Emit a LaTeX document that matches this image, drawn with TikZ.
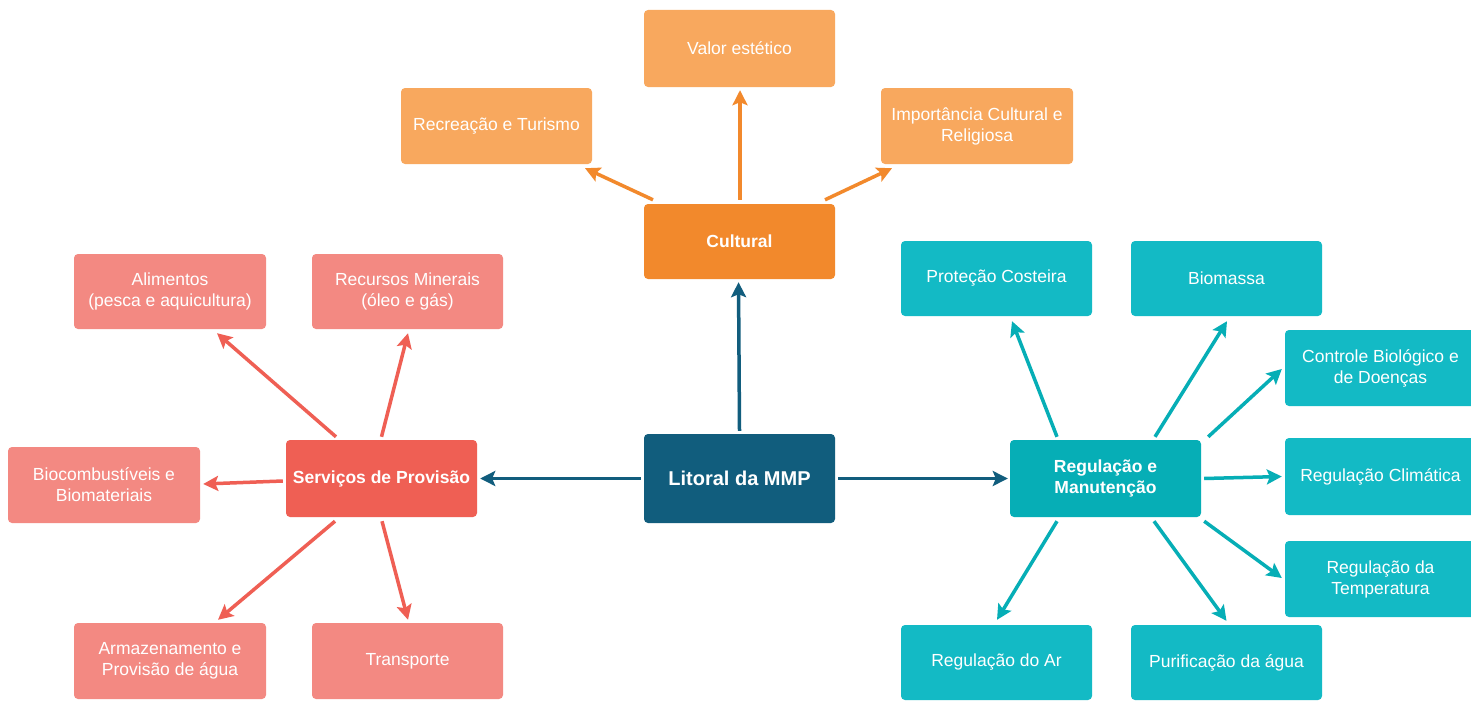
\documentclass[tikz,border=0pt]{standalone}
\usepackage{fontspec}
\setmainfont{Liberation Sans}
\usetikzlibrary{arrows.meta,calc}
\definecolor{cLit}{HTML}{115D7D}
\definecolor{cServ}{HTML}{EF5F54}
\definecolor{cServL}{HTML}{F38982}
\definecolor{cReg}{HTML}{06AEB6}
\definecolor{cRegL}{HTML}{13BAC5}
\definecolor{cCult}{HTML}{F2892C}
\definecolor{cCultL}{HTML}{F8A85E}
\tikzset{
  box/.style={rectangle, rounded corners=4pt, text=white, align=center, inner sep=0pt,
    minimum width=191pt, font=\fontsize{17.5}{21}\selectfont},
  mainbox/.style={box, font=\bfseries\fontsize{17.5}{21}\selectfont},
  arr/.style={line width=3.5pt, -{Stealth[length=15pt,width=15pt,inset=3pt]}},
}
\begin{document}
\begin{tikzpicture}[x=1pt,y=-1pt]
\clip (0,0) rectangle (1471,701);
\fill[white] (0,0) rectangle (1471,701);
% main nodes
\node[mainbox, fill=cLit, minimum height=89pt, font=\bfseries\fontsize{20}{24}\selectfont] (lit) at (739.5,478.5) {Litoral da MMP};
\node[mainbox, fill=cServ, minimum height=77pt] (serv) at (381.5,478.5) {Serviços de Provisão};
\node[mainbox, fill=cReg, minimum height=77pt] (reg) at (1105.5,478.5) {Regulação e\\Manutenção};
\node[mainbox, fill=cCult, minimum height=75pt] (cult) at (739.5,241.5) {Cultural};
% cultural children
\node[box, fill=cCultL, minimum height=77pt] (valor) at (739.5,48.5) {Valor estético};
\node[box, fill=cCultL, minimum height=76pt] (recr) at (496.5,126) {Recreação e Turismo};
\node[box, fill=cCultL, minimum height=76pt, minimum width=192pt] (imp) at (977,126) {Importância Cultural e\\Religiosa};
% provision children
\node[box, fill=cServL, minimum height=75pt, minimum width=192pt] (alim) at (170,291.5) {Alimentos\\(pesca e aquicultura)};
\node[box, fill=cServL, minimum height=75pt] (recu) at (407.5,291.5) {Recursos Minerais\\(óleo e gás)};
\node[box, fill=cServL, minimum height=76pt, minimum width=192pt] (bioc) at (104,485) {Biocombustíveis e\\Biomateriais};
\node[box, fill=cServL, minimum height=76pt, minimum width=192pt] (armz) at (170,661) {Armazenamento e\\Provisão de água};
\node[box, fill=cServL, minimum height=76pt] (transp) at (407.5,661) {Transporte};
% regulation children
\node[box, fill=cRegL, minimum height=75pt] (prot) at (996.5,278.5) {Proteção Costeira};
\node[box, fill=cRegL, minimum height=75pt] (bioma) at (1226.5,278.5) {Biomassa};
\node[box, fill=cRegL, minimum height=76pt] (ctrl) at (1380.5,368) {Controle Biológico e\\de Doenças};
\node[box, fill=cRegL, minimum height=77pt] (clim) at (1380.5,476.5) {Regulação Climática};
\node[box, fill=cRegL, minimum height=76pt] (temp) at (1380.5,579) {Regulação da\\Temperatura};
\node[box, fill=cRegL, minimum height=75pt] (ar) at (996.5,662.5) {Regulação do Ar};
\node[box, fill=cRegL, minimum height=75pt] (pur) at (1226.5,662.5) {Purificação da água};
% arrows from centre
\draw[arr, cLit] ($(lit.north)+(0,-3)$) -- ($(cult.south)+(-1,3)$);
\draw[arr, cLit] ($(lit.west)+(-3,0)$) -- ($(serv.east)+(3,0)$);
\draw[arr, cLit] ($(lit.east)+(3,0)$) -- ($(reg.west)+(-2,0)$);
% cultural
\draw[arr, cCult] ($(cult.north)+(-86.5,-4)$) -- ($(recr.south)+(88.5,4)$);
\draw[arr, cCult] ($(cult.north)+(0.5,-4)$) -- ($(valor.south)+(0.5,3)$);
\draw[arr, cCult] ($(cult.north)+(85.5,-4)$) -- ($(imp.south)+(-85,4)$);
% provision
\draw[arr, cServ] ($(serv.north)+(-45.5,-3)$) -- ($(alim.south)+(47,4)$);
\draw[arr, cServ] ($(serv.north)+(0,-3)$) -- ($(recu.south)+(0.5,4)$);
\draw[arr, cServ] ($(serv.west)+(-3,2.5)$) -- ($(bioc.east)+(3,-1)$);
\draw[arr, cServ] ($(serv.south)+(-46.5,4)$) -- ($(armz.north)+(48,-3)$);
\draw[arr, cServ] ($(serv.south)+(0.5,4)$) -- ($(transp.north)+(0.5,-3)$);
% regulation
\draw[arr, cReg] ($(reg.north)+(-48.5,-3)$) -- ($(prot.south)+(15.5,5)$);
\draw[arr, cReg] ($(reg.north)+(49.5,-3)$) -- ($(bioma.south)+(0.5,5)$);
\draw[arr, cReg] ($(reg.north east)+(7,-3)$) -- ($(ctrl.west)+(-3,1)$);
\draw[arr, cReg] ($(reg.east)+(3,0)$) -- ($(clim.west)+(-3,0)$);
\draw[arr, cReg] ($(reg.south east)+(3,4)$) -- ($(temp.west)+(-3,-1)$);
\draw[arr, cReg] ($(reg.south)+(-48.5,4)$) -- ($(ar.north)+(0.5,-5)$);
\draw[arr, cReg] ($(reg.south)+(48.5,4)$) -- ($(pur.north)+(0,-4)$);
\end{tikzpicture}
\end{document}
